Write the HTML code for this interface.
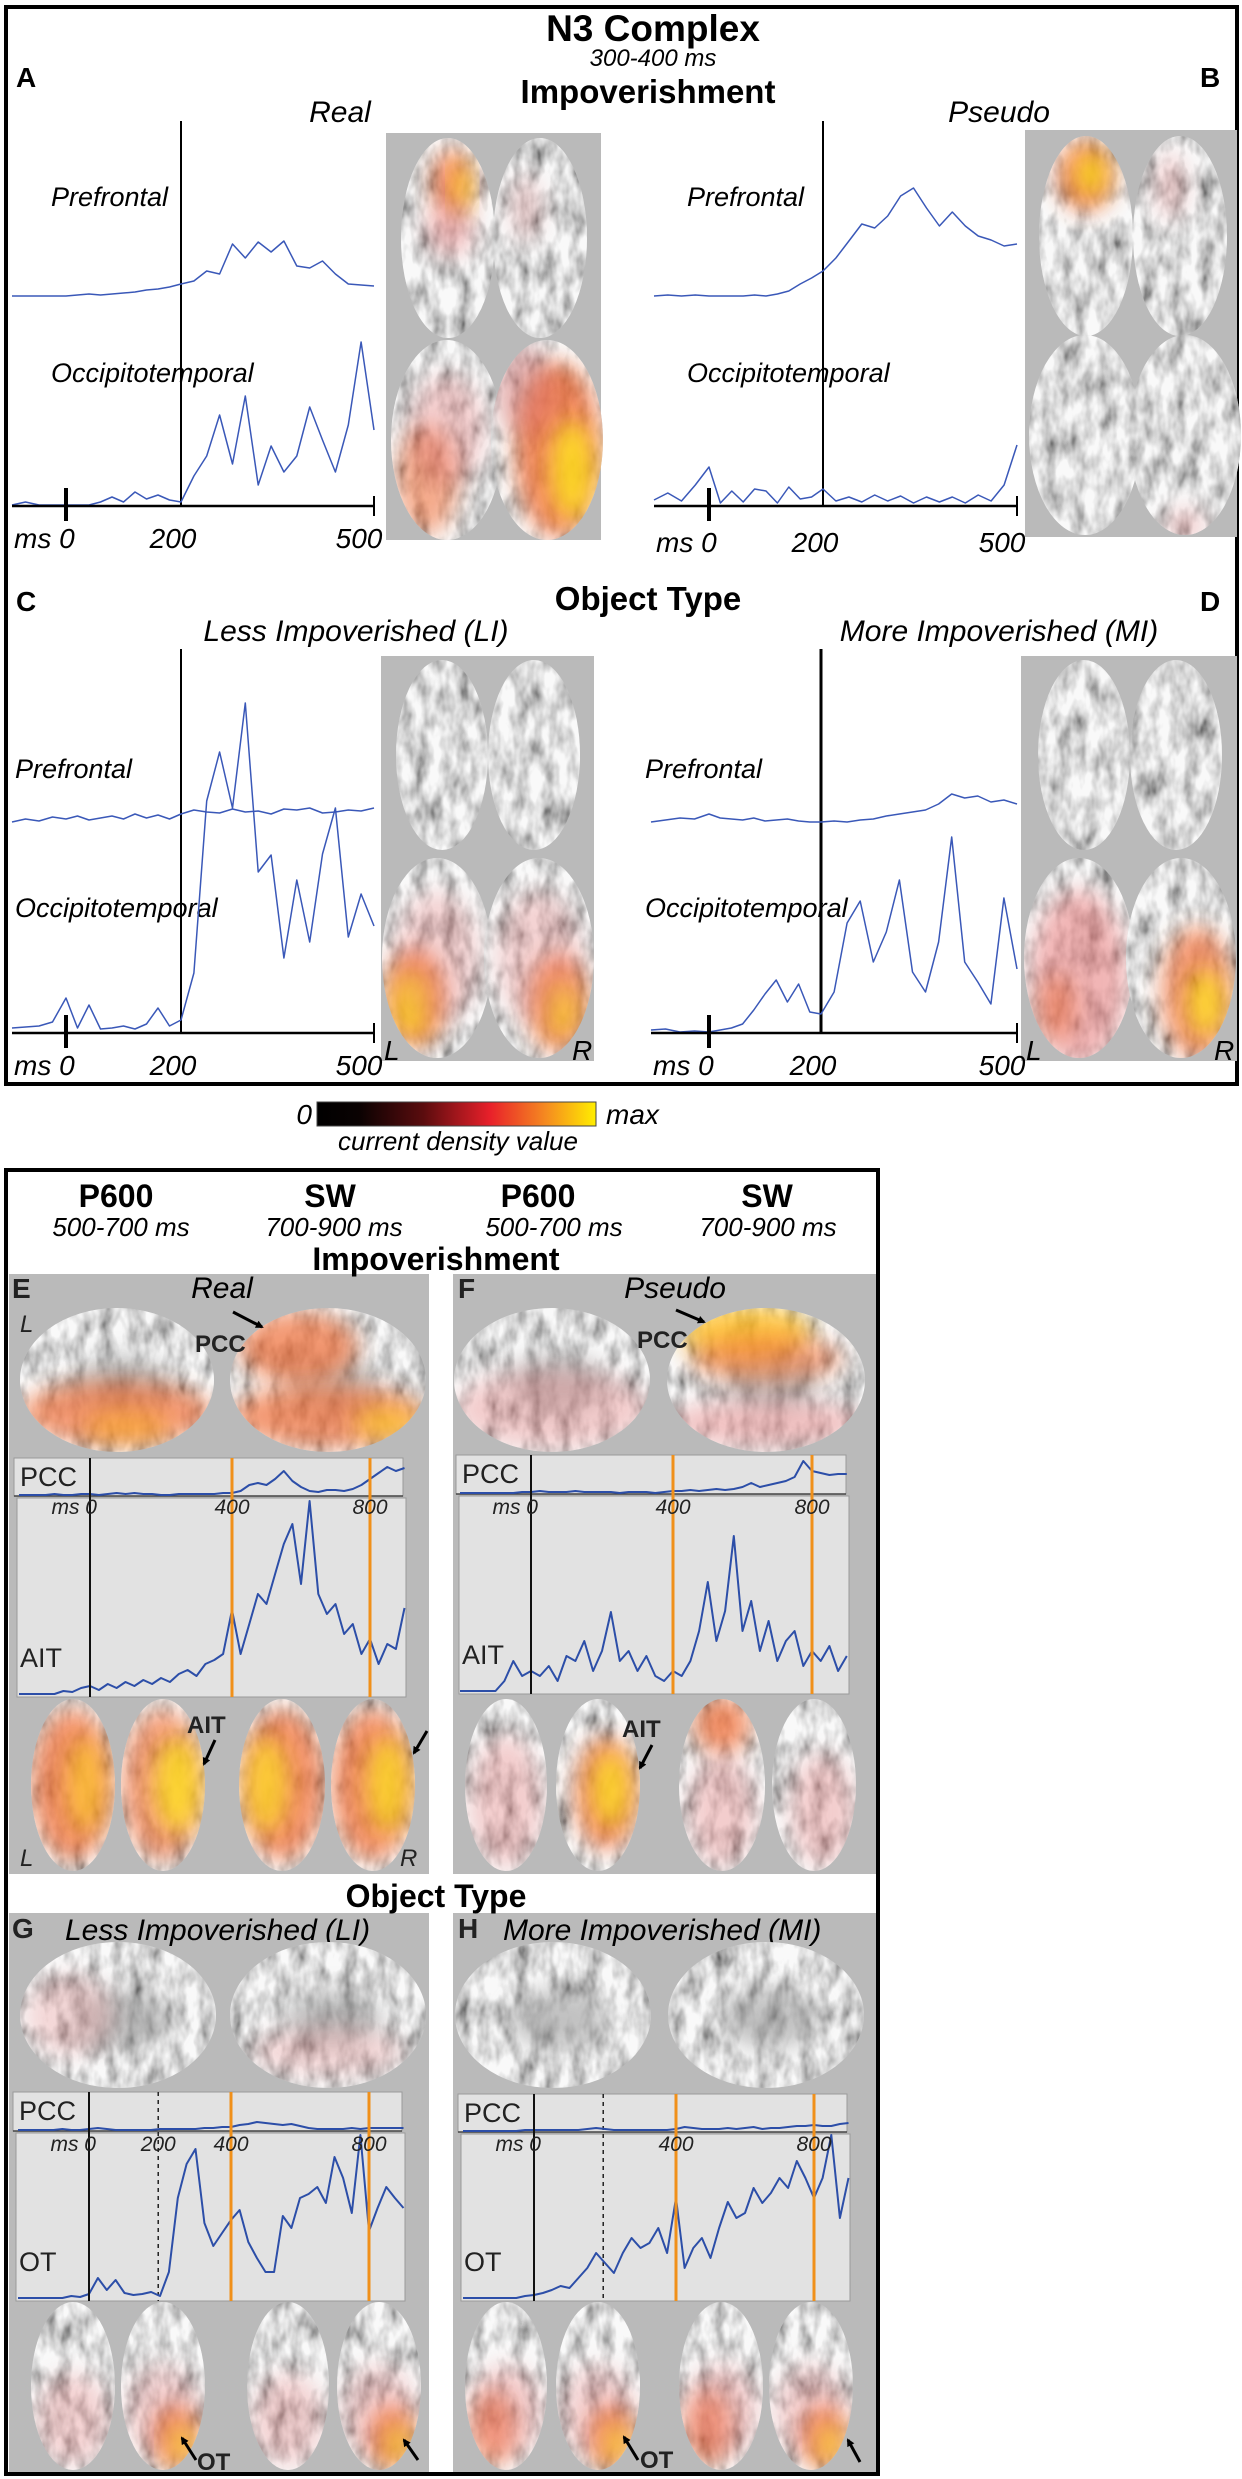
<!DOCTYPE html>
<html><head><meta charset="utf-8"><title>N3 Complex figure</title>
<style>
html,body{margin:0;padding:0;background:#fff;}
svg{display:block;font-family:"Liberation Sans",Arial,sans-serif;}
.b{font-weight:bold;}
.i{font-style:italic;}
</style></head>
<body>
<svg id="fig" width="1242" height="2479" viewBox="0 0 1242 2479" xmlns="http://www.w3.org/2000/svg">
<defs id="defs">
<filter id="gyri" x="0" y="0" width="100%" height="100%">
<feTurbulence type="fractalNoise" baseFrequency="0.07 0.035" numOctaves="3" seed="4" result="n"/>
<feColorMatrix in="n" type="matrix" values="1.5 0 0 0 -0.02  1.5 0 0 0 -0.02  1.5 0 0 0 -0.02  0 0 0 0 1" result="g"/>
<feComposite in="g" in2="SourceAlpha" operator="in"/>
</filter>
<filter id="blur" x="-60%" y="-60%" width="220%" height="220%"><feGaussianBlur stdDeviation="11"/></filter>
<linearGradient id="cbar" x1="0" x2="1" y1="0" y2="0">
<stop offset="0" stop-color="#000"/><stop offset="0.15" stop-color="#0a0202"/><stop offset="0.38" stop-color="#5a0c0e"/>
<stop offset="0.62" stop-color="#e8202a"/><stop offset="0.82" stop-color="#f58a20"/><stop offset="1" stop-color="#ffee00"/>
</linearGradient>
<marker id="arr" markerWidth="8" markerHeight="8" refX="6" refY="4" orient="auto" markerUnits="userSpaceOnUse"><path d="M0,0 L8,4 L0,8 z" fill="#000"/></marker>
</defs>

<rect x="6" y="7" width="1231" height="1077" fill="none" stroke="#000" stroke-width="4"/>
<text x="653" y="41" text-anchor="middle" class="b" font-size="37">N3 Complex</text>
<text x="653" y="66" text-anchor="middle" class="i" font-size="24">300-400 ms</text>
<text x="648" y="103" text-anchor="middle" class="b" font-size="33">Impoverishment</text>
<text x="16" y="87" class="b" font-size="28">A</text>
<text x="1200" y="87" class="b" font-size="28">B</text>
<text x="340" y="122" text-anchor="middle" class="i" font-size="30">Real</text>
<text x="999" y="122" text-anchor="middle" class="i" font-size="30">Pseudo</text>
<text x="648" y="610" text-anchor="middle" class="b" font-size="33">Object Type</text>
<text x="16" y="611" class="b" font-size="28">C</text>
<text x="1200" y="611" class="b" font-size="28">D</text>
<text x="356" y="641" text-anchor="middle" class="i" font-size="30">Less Impoverished (LI)</text>
<text x="999" y="641" text-anchor="middle" class="i" font-size="30">More Impoverished (MI)</text>

<text x="51" y="206" class="i" font-size="27">Prefrontal</text>
<text x="51" y="382" class="i" font-size="27">Occipitotemporal</text>
<text x="687" y="206" class="i" font-size="27">Prefrontal</text>
<text x="687" y="382" class="i" font-size="27">Occipitotemporal</text>
<text x="15" y="778" class="i" font-size="27">Prefrontal</text>
<text x="15" y="917" class="i" font-size="27">Occipitotemporal</text>
<text x="645" y="778" class="i" font-size="27">Prefrontal</text>
<text x="645" y="917" class="i" font-size="27">Occipitotemporal</text>

<rect x="386" y="133" width="215" height="407" fill="#bababa"/>
<rect x="1025" y="130" width="212" height="407" fill="#bababa"/>
<rect x="381" y="656" width="213" height="405" fill="#bababa"/>
<rect x="1021" y="656" width="216" height="405" fill="#bababa"/>
<g id="topbrains"></g>
<text x="384" y="1060" class="i" font-size="28">L</text>
<text x="572" y="1060" class="i" font-size="28">R</text>
<text x="1026" y="1060" class="i" font-size="28">L</text>
<text x="1214" y="1060" class="i" font-size="28">R</text>
<g id="n3charts"></g>

<rect x="317" y="1102" width="279" height="24" fill="url(#cbar)" stroke="#444" stroke-width="1"/>
<text x="312" y="1124" text-anchor="end" class="i" font-size="28">0</text>
<text x="606" y="1124" class="i" font-size="28">max</text>
<text x="458" y="1150" text-anchor="middle" class="i" font-size="26">current density value</text>

<rect x="9" y="1274" width="420" height="600" fill="#bababa"/>
<rect x="453" y="1274" width="424" height="600" fill="#bababa"/>
<rect x="9" y="1913" width="420" height="559" fill="#bababa"/>
<rect x="453" y="1913" width="424" height="559" fill="#bababa"/>
<rect x="6" y="1170" width="872" height="1304" fill="none" stroke="#000" stroke-width="4"/>
<text x="116" y="1207" text-anchor="middle" class="b" font-size="32">P600</text>
<text x="330" y="1207" text-anchor="middle" class="b" font-size="32">SW</text>
<text x="538" y="1207" text-anchor="middle" class="b" font-size="32">P600</text>
<text x="767" y="1207" text-anchor="middle" class="b" font-size="32">SW</text>
<text x="121" y="1236" text-anchor="middle" class="i" font-size="26">500-700 ms</text>
<text x="334" y="1236" text-anchor="middle" class="i" font-size="26">700-900 ms</text>
<text x="554" y="1236" text-anchor="middle" class="i" font-size="26">500-700 ms</text>
<text x="768" y="1236" text-anchor="middle" class="i" font-size="26">700-900 ms</text>
<text x="436" y="1270" text-anchor="middle" class="b" font-size="32">Impoverishment</text>
<text x="436" y="1907" text-anchor="middle" class="b" font-size="32">Object Type</text>
<text x="12" y="1298" class="b" font-size="28" fill="#222">E</text>
<text x="458" y="1298" class="b" font-size="28" fill="#222">F</text>
<text x="222" y="1298" text-anchor="middle" class="i" font-size="30">Real</text>
<text x="675" y="1298" text-anchor="middle" class="i" font-size="30">Pseudo</text>
<text x="12" y="1938" class="b" font-size="28" fill="#222">G</text>
<text x="458" y="1938" class="b" font-size="28" fill="#222">H</text>
<text x="65" y="1940" class="i" font-size="30">Less Impoverished (LI)</text>
<text x="503" y="1940" class="i" font-size="30">More Impoverished (MI)</text>
<g id="botbrains"></g>
<g id="latecharts"></g>
<g id="annot">
<text x="20" y="1332" class="i" font-size="24" fill="#222">L</text>
<text x="195" y="1352" class="b" font-size="24" fill="#222">PCC</text>
<line x1="233" y1="1312" x2="262" y2="1327" stroke="#000" stroke-width="3" marker-end="url(#arr)"/>
<text x="637" y="1348" class="b" font-size="24" fill="#222">PCC</text>
<line x1="676" y1="1310" x2="704" y2="1322" stroke="#000" stroke-width="3" marker-end="url(#arr)"/>
<text x="187" y="1733" class="b" font-size="24" fill="#222">AIT</text>
<line x1="215" y1="1740" x2="204" y2="1764" stroke="#000" stroke-width="3" marker-end="url(#arr)"/>
<line x1="427" y1="1731" x2="414" y2="1753" stroke="#000" stroke-width="3" marker-end="url(#arr)"/>
<text x="622" y="1737" class="b" font-size="24" fill="#222">AIT</text>
<line x1="652" y1="1745" x2="640" y2="1768" stroke="#000" stroke-width="3" marker-end="url(#arr)"/>
<text x="20" y="1866" class="i" font-size="24" fill="#222">L</text>
<text x="400" y="1866" class="i" font-size="24" fill="#222">R</text>
<text x="197" y="2470" class="b" font-size="24" fill="#222">OT</text>
<line x1="196" y1="2460" x2="182" y2="2438" stroke="#000" stroke-width="3" marker-end="url(#arr)"/>
<line x1="418" y1="2460" x2="404" y2="2440" stroke="#000" stroke-width="3" marker-end="url(#arr)"/>
<text x="640" y="2468" class="b" font-size="24" fill="#222">OT</text>
<line x1="638" y1="2460" x2="624" y2="2437" stroke="#000" stroke-width="3" marker-end="url(#arr)"/>
<line x1="860" y1="2462" x2="848" y2="2440" stroke="#000" stroke-width="3" marker-end="url(#arr)"/>
</g>
</svg>

<script>
const n3Times = [-80,-60,-40,-20,0,20,40,60,80,100,120,140,160,180,200,220,240,260,280,300,320,340,360,380,400,420,440,460,480,500];
const n3TickValues = [0,200,500];
const n3TickLabels = ['ms 0','200','500'];
const realPrefrontal = [0,0,0,0,0,1,2,1,2,3,4,6,7,9,12,15,25,22,52,38,54,44,55,30,28,35,22,12,11,10];
const realOccipito = [0,3,0,0,0,0,0,3,8,3,13,6,10,5,3,29,49,90,41,109,20,59,33,49,98,65,33,80,163,75];
const pseudoPrefrontal = [0,1,0,1,0,0,0,0,1,0,2,5,12,18,25,38,55,72,68,80,100,108,88,70,84,70,60,56,50,52];
const pseudoOccipito = [5,12,4,20,38,2,14,3,16,14,2,18,6,8,16,4,8,3,10,4,9,2,8,3,8,2,10,4,20,60];
const liPrefrontal = [0,3,1,5,3,6,2,4,6,3,8,4,7,3,8,12,10,9,13,10,11,8,13,12,14,9,10,12,11,14];
const liOccipito = [4,5,6,10,34,4,27,3,4,6,3,8,24,6,12,59,231,280,224,329,160,177,74,152,90,178,224,95,138,106];
const miPrefrontal = [0,2,4,3,8,4,3,2,4,1,2,3,1,0,0,1,0,2,3,6,8,10,12,18,28,24,26,20,22,18];
const miOccipito = [2,3,0,1,0,2,4,8,22,38,52,30,48,20,18,40,109,131,70,100,152,60,40,90,195,70,50,28,134,63];

const lateTimes = [-200,-175,-150,-125,-100,-75,-50,-25,0,25,50,75,100,125,150,175,200,225,250,275,300,325,350,375,400,425,450,475,500,525,550,575,600,625,650,675,700,725,750,775,800,825,850,875,900];
const lateTickValues = [0,400,800];
const lateTickLabels = ['ms 0','400','800'];
const realPCC = [0,0,0,0,1,0,0,1, 1,0,1,2,1,2,1,1,0,0,1,1,1,1,1,2, 2,4,10,12,10,16,24,14,8,4,3,5,5,4,6,10,16,22,28,24, 27];
const realAIT = [0,0,0,0,0,3,2,6, 8,4,10,6,12,8,14,10,16,12,20,24,18,30,34,40, 84,40,70,100,90,120,150,170,110,193,100,80,90,60,70,40,55,30,50,45, 86];
const pseudoPCC = [0,0,0,0,0,0,0,1, 1,2,1,1,1,2,1,1,1,1,0,1,1,1,0,1, 2,2,3,2,3,4,3,4,6,10,6,8,10,12,16,32,22,20,18,19, 19];
const pseudoAIT = [0,0,0,0,0,10,30,15, 20,15,25,10,35,30,50,20,40,79,30,40,20,35,15,10, 20,15,30,60,109,50,80,155,60,90,40,70,30,50,60,25,40,30,45,20, 35];
const liPCC = [0,0,0,0,0,1,0,0, 1,2,1,0,0,0,0,0,1,1,1,1,1,2,2,3, 3,5,6,8,7,6,5,6,4,2,1,1,1,1,2,1,2,2,2,2, 2];
const liOT = [0,0,0,0,0,0,2,1, 4,20,8,18,5,3,4,6,2,26,100,134,149,75,52,65, 78,88,56,40,26,26,82,70,100,104,111,95,141,120,85,163,67,90,111,100, 90];
const miPCC = [0,0,0,0,0,0,0,1, 1,1,1,1,1,1,2,3,2,1,1,1,1,1,1,1, 2,4,3,2,2,2,3,2,3,4,2,3,3,4,5,5,6,5,5,7, 8];
const miOT = [0,0,0,0,0,0,0,2, 3,5,8,12,10,20,30,45,35,25,45,60,50,55,70,45, 100,30,50,60,40,70,96,80,85,110,95,105,120,110,137,120,100,120,163,80, 120];

const NS = 'http://www.w3.org/2000/svg';
const defs = document.getElementById('defs');
function mk(tag, attrs, parent) {
  const e = document.createElementNS(NS, tag);
  for (const k in attrs) e.setAttribute(k, attrs[k]);
  parent.appendChild(e);
  return e;
}
function makeScale(dom, rng) {
  return function (t) {
    let i = 0;
    if (t <= dom[0]) i = 0;
    else if (t >= dom[dom.length - 1]) i = dom.length - 2;
    else { while (t > dom[i + 1]) i++; }
    const f = (t - dom[i]) / (dom[i + 1] - dom[i]);
    return rng[i] + f * (rng[i + 1] - rng[i]);
  };
}
function makeY(base, k) { return v => base - v * k; }

function drawTrace(parent, times, vals, xs, ys, color, width, name) {
  const pts = times.map((t, i) => xs(t).toFixed(1) + ',' + ys(vals[i]).toFixed(1)).join(' ');
  const p = mk('polyline', {points: pts, fill: 'none', stroke: color, 'stroke-width': width, 'stroke-linejoin': 'round'}, parent);
  
  
}

const n3g = document.getElementById('n3charts');
function n3Panel(cfg) {
  const xs = makeScale([-80, 0, 200, 500], cfg.knots);
  const x0 = xs(-80), x1 = xs(500);
  const vl = mk('line', {x1: xs(200), x2: xs(200), y1: cfg.top, y2: cfg.axisY, stroke: '#000', 'stroke-width': cfg.vw}, n3g);
  
  
  drawTrace(n3g, n3Times, cfg.pf, xs, makeY(cfg.pfBase, 1), '#3a58b8', 1.5, cfg.id + '-prefrontal-trace');
  drawTrace(n3g, n3Times, cfg.oc, xs, makeY(cfg.axisY - 1, 1), '#3a58b8', 1.5, cfg.id + '-occipitotemporal-trace');
  const ax = mk('line', {x1: x0, x2: x1, y1: cfg.axisY, y2: cfg.axisY, stroke: '#000', 'stroke-width': 2.5}, n3g);
  
  
  const et = mk('line', {x1: x1, x2: x1, y1: cfg.axisY - 10, y2: cfg.axisY + 10, stroke: '#000', 'stroke-width': 2}, n3g);
  
  
  const zt = mk('line', {x1: cfg.zeroX, x2: cfg.zeroX, y1: cfg.axisY - 18, y2: cfg.axisY + 15, stroke: '#000', 'stroke-width': 4}, n3g);
  
  
  n3TickValues.forEach((v, i) => {
    const isZero = i === 0;
    const t = mk('text', {x: isZero ? x0 + 2 : xs(v) - (i === 2 ? 15 : 8), y: cfg.labY, 'text-anchor': isZero ? 'start' : 'middle', 'font-size': 28, 'font-style': 'italic'}, n3g);
    
    
    t.textContent = n3TickLabels[i];
  });
}
n3Panel({id: 'panel-a', knots: [12, 66, 181, 374], zeroX: 66, top: 121, axisY: 506, pfBase: 296, labY: 548, vw: 2, pf: realPrefrontal, oc: realOccipito});
n3Panel({id: 'panel-b', knots: [654, 709, 823, 1017], zeroX: 709, top: 121, axisY: 506, pfBase: 296, labY: 552, vw: 2, pf: pseudoPrefrontal, oc: pseudoOccipito});
n3Panel({id: 'panel-c', knots: [12, 66, 181, 374], zeroX: 66, top: 649, axisY: 1033, pfBase: 822, labY: 1075, vw: 2, pf: liPrefrontal, oc: liOccipito});
n3Panel({id: 'panel-d', knots: [651, 709, 821, 1017], zeroX: 709, top: 649, axisY: 1033, pfBase: 822, labY: 1075, vw: 3, pf: miPrefrontal, oc: miOccipito});

const lg = document.getElementById('latecharts');
function latePanel(cfg) {
  const xs = makeScale([0, 400, 800], cfg.knots);
  const b1 = mk('rect', {x: cfg.bx, y: cfg.pccTop, width: cfg.bw, height: cfg.pccBot - cfg.pccTop, fill: '#e2e2e2', stroke: '#9a9a9a', 'stroke-width': 1}, lg);
  
  
  const b2 = mk('rect', {x: cfg.bx + 3, y: cfg.pccBot + 2, width: cfg.bw, height: cfg.bot - cfg.pccBot - 2, fill: '#e2e2e2', stroke: '#9a9a9a', 'stroke-width': 1}, lg);
  
  
  const sep = mk('line', {x1: cfg.bx, x2: cfg.bx + cfg.bw, y1: cfg.pccBot, y2: cfg.pccBot, stroke: '#444', 'stroke-width': 1.5}, lg);
  
  
  const l1 = mk('text', {x: cfg.bx + 6, y: cfg.pccTop + 28, 'font-size': 27, fill: '#222'}, lg);
  
  
  l1.textContent = 'PCC';
  const l2 = mk('text', {x: cfg.bx + 6, y: cfg.bot - 30, 'font-size': 27, fill: '#222'}, lg);
  
  
  l2.textContent = cfg.low;
  if (cfg.dashed !== undefined) {
    const d = mk('line', {x1: xs(cfg.dashed), x2: xs(cfg.dashed), y1: cfg.pccTop, y2: cfg.bot, stroke: '#222', 'stroke-width': 1.5, 'stroke-dasharray': '4,4'}, lg);
    
    
  }
  drawTrace(lg, lateTimes, cfg.pcc, xs, makeY(cfg.pccBot - 1, 1), '#2c4ea8', 2, cfg.id + '-pcc-trace');
  drawTrace(lg, lateTimes, cfg.lowVals, xs, makeY(cfg.bot - 3, 1), '#2c4ea8', 2, cfg.id + '-' + cfg.low.toLowerCase() + '-trace');
  lateTickValues.forEach((v, i) => {
    const ln = mk('line', {x1: xs(v), x2: xs(v), y1: cfg.pccTop, y2: cfg.bot, stroke: i === 0 ? '#111' : '#f0901a', 'stroke-width': i === 0 ? 2 : 3}, lg);
    
    
    const t = mk('text', {x: i === 0 ? xs(v) + 7 : xs(v), y: cfg.labY, 'text-anchor': i === 0 ? 'end' : 'middle', 'font-size': 21, 'font-style': 'italic', fill: '#222'}, lg);
    
    
    t.textContent = lateTickLabels[i];
  });
  if (cfg.dashedLabel) {
    const t = mk('text', {x: xs(cfg.dashed), y: cfg.labY, 'text-anchor': 'middle', 'font-size': 21, 'font-style': 'italic', fill: '#222'}, lg);
    
    
    t.textContent = cfg.dashedLabel;
  }
}
latePanel({id: 'panel-e', knots: [90, 232, 370], bx: 14, bw: 389, pccTop: 1458, pccBot: 1496, bot: 1697, labY: 1514, low: 'AIT', pcc: realPCC, lowVals: realAIT});
latePanel({id: 'panel-f', knots: [531, 673, 812], bx: 456, bw: 390, pccTop: 1455, pccBot: 1494, bot: 1694, labY: 1514, low: 'AIT', pcc: pseudoPCC, lowVals: pseudoAIT});
latePanel({id: 'panel-g', knots: [89, 231, 369], bx: 13, bw: 389, pccTop: 2092, pccBot: 2131, bot: 2301, labY: 2151, low: 'OT', pcc: liPCC, lowVals: liOT, dashed: 195, dashedLabel: '200'});
latePanel({id: 'panel-h', knots: [534, 676, 814], bx: 458, bw: 389, pccTop: 2094, pccBot: 2132, bot: 2301, labY: 2151, low: 'OT', pcc: miPCC, lowVals: miOT, dashed: 195});

let clipN = 0;
function hemi(parent, cx, cy, rx, ry, blobs, name, medial) {
  const g = mk('g', {}, parent);
  
  
  const id = 'clip' + (clipN++);
  const cp = mk('clipPath', {id: id}, defs);
  mk('ellipse', {cx: cx, cy: cy, rx: rx, ry: ry}, cp);
  mk('ellipse', {cx: cx, cy: cy, rx: rx, ry: ry, fill: '#c8c8c8'}, g);
  mk('ellipse', {cx: cx, cy: cy, rx: rx, ry: ry, fill: '#fff', filter: 'url(#gyri)', opacity: 0.9}, g);
  const hg = mk('g', {'clip-path': 'url(#' + id + ')'}, g);
  if (medial) mk('ellipse', {cx: cx + rx * 0.05, cy: cy + ry * 0.05, rx: rx * 0.5, ry: ry * 0.4, fill: '#8a8a8a', opacity: 0.5, filter: 'url(#blur)'}, hg);
  blobs.forEach(b => {
    mk('ellipse', {cx: cx + b[0] * rx, cy: cy + b[1] * ry, rx: b[2] * rx * 1.1, ry: b[3] * ry * 1.1, fill: b[4], opacity: b[5] * 0.9, filter: 'url(#blur)'}, hg);
  });
}
const tb = document.getElementById('topbrains');
const OR = '#f06a30', YE = '#ffe41c', PK = '#e88080';
hemi(tb, 448, 238, 47, 100, [[0.1,-0.55,0.4,0.3,OR,0.85],[0.3,-0.5,0.15,0.22,YE,0.85],[0.05,-0.1,0.45,0.25,PK,0.55]], 'brain-a-frontal-left');
hemi(tb, 540, 238, 47, 100, [[-0.3,-0.3,0.3,0.3,PK,0.3]], 'brain-a-frontal-right');
hemi(tb, 447, 440, 56, 100, [[-0.35,0.4,0.5,0.5,OR,0.6],[0,-0.1,0.6,0.5,PK,0.4]], 'brain-a-ventral-left');
hemi(tb, 547, 440, 56, 100, [[0.2,0.1,0.7,0.8,OR,0.85],[0.45,0.3,0.35,0.45,YE,0.9],[-0.4,-0.5,0.5,0.4,'#d06060',0.45]], 'brain-a-ventral-right');
hemi(tb, 1086, 236, 47, 100, [[0,-0.6,0.55,0.32,OR,0.85],[0.1,-0.62,0.3,0.2,YE,0.9]], 'brain-b-frontal-left');
hemi(tb, 1180, 236, 47, 100, [[-0.2,-0.5,0.3,0.3,PK,0.35]], 'brain-b-frontal-right');
hemi(tb, 1085, 435, 56, 100, [], 'brain-b-ventral-left');
hemi(tb, 1185, 435, 56, 100, [[0,0.9,0.3,0.15,PK,0.4]], 'brain-b-ventral-right');
hemi(tb, 442, 755, 46, 95, [], 'brain-c-frontal-left');
hemi(tb, 534, 755, 46, 95, [], 'brain-c-frontal-right');
hemi(tb, 437, 958, 55, 100, [[-0.4,0.4,0.5,0.45,OR,0.85],[-0.45,0.45,0.3,0.3,YE,0.85],[0,0,0.7,0.6,PK,0.35]], 'brain-c-ventral-left');
hemi(tb, 539, 958, 55, 100, [[0.35,0.45,0.5,0.45,OR,0.8],[0.4,0.5,0.25,0.25,YE,0.75],[0,0,0.7,0.6,PK,0.35]], 'brain-c-ventral-right');
hemi(tb, 1084, 755, 46, 95, [], 'brain-d-frontal-left');
hemi(tb, 1176, 755, 46, 95, [], 'brain-d-frontal-right');
hemi(tb, 1079, 958, 55, 100, [[0,0.2,0.8,0.8,'#e87070',0.55],[-0.4,0.5,0.3,0.3,OR,0.5]], 'brain-d-ventral-left');
hemi(tb, 1181, 958, 55, 100, [[0.3,0.35,0.6,0.6,OR,0.75],[0.45,0.45,0.3,0.3,YE,0.85]], 'brain-d-ventral-right');

const bb = document.getElementById('botbrains');
hemi(bb, 117, 1380, 97, 72, [[0,0.45,0.9,0.4,OR,0.75],[0.1,0.65,0.4,0.2,'#ffb020',0.6]], 'medial-e-p600', true);
hemi(bb, 328, 1380, 98, 72, [[-0.3,-0.45,0.55,0.45,OR,0.75],[0,0.5,0.9,0.4,OR,0.75],[0.6,0.6,0.3,0.2,'#ffd020',0.7]], 'medial-e-sw', true);
hemi(bb, 552, 1380, 98, 72, [[0,0.4,0.9,0.5,PK,0.4]], 'medial-f-p600', true);
hemi(bb, 766, 1380, 99, 72, [[-0.2,-0.65,0.6,0.35,'#ffc020',0.9],[0,-0.3,0.7,0.3,OR,0.6],[0,0.6,0.9,0.3,PK,0.5]], 'medial-f-sw', true);
hemi(bb, 118, 2015, 98, 73, [[-0.5,0,0.4,0.5,PK,0.3]], 'medial-g-p600', true);
hemi(bb, 328, 2015, 98, 73, [[0,0.5,0.7,0.3,PK,0.3]], 'medial-g-sw', true);
hemi(bb, 553, 2015, 98, 73, [], 'medial-h-p600', true);
hemi(bb, 766, 2015, 98, 73, [], 'medial-h-sw', true);
const EV = [[0,0,0.9,0.8,OR,0.8],[0.3,0,0.4,0.5,'#ffd020',0.7]];
hemi(bb, 73, 1785, 42, 86, EV, 'ventral-e-1');
hemi(bb, 163, 1785, 42, 86, [[0,0,0.9,0.8,OR,0.7],[0.35,0,0.5,0.5,YE,0.85]], 'ventral-e-2');
hemi(bb, 282, 1785, 43, 86, [[0,0,0.9,0.8,OR,0.8],[-0.35,0,0.45,0.5,YE,0.75]], 'ventral-e-3');
hemi(bb, 373, 1785, 42, 86, [[0,0,0.9,0.8,OR,0.8],[0.35,0,0.45,0.5,YE,0.8]], 'ventral-e-4');
hemi(bb, 506, 1785, 41, 86, [[0,0.2,0.8,0.7,PK,0.4]], 'ventral-f-1');
hemi(bb, 598, 1785, 42, 86, [[0.2,0.1,0.7,0.6,OR,0.8],[0.3,0.05,0.4,0.4,YE,0.85]], 'ventral-f-2');
hemi(bb, 722, 1785, 43, 86, [[0,-0.7,0.6,0.3,OR,0.8],[0,0.3,0.7,0.6,PK,0.4]], 'ventral-f-3');
hemi(bb, 814, 1785, 42, 86, [[0.2,0.3,0.7,0.6,PK,0.4]], 'ventral-f-4');
const OTB = [[0.3,0.6,0.5,0.35,OR,0.85],[0.4,0.65,0.25,0.2,'#ffee20',0.95],[0,0.3,0.8,0.5,PK,0.35]];
hemi(bb, 73, 2386, 42, 84, [[0,0.4,0.8,0.5,PK,0.35]], 'ventral-g-1');
hemi(bb, 163, 2386, 42, 84, OTB, 'ventral-g-2');
hemi(bb, 288, 2386, 41, 84, [[0,0.4,0.8,0.5,PK,0.35]], 'ventral-g-3');
hemi(bb, 379, 2386, 42, 84, OTB, 'ventral-g-4');
const HL = [[-0.3,0.5,0.5,0.4,OR,0.7],[0,0.3,0.8,0.5,PK,0.4]];
hemi(bb, 506, 2386, 41, 84, HL, 'ventral-h-1');
hemi(bb, 598, 2386, 42, 84, OTB, 'ventral-h-2');
hemi(bb, 721, 2386, 42, 84, HL, 'ventral-h-3');
hemi(bb, 811, 2386, 42, 84, OTB, 'ventral-h-4');
</script>
</body></html>
